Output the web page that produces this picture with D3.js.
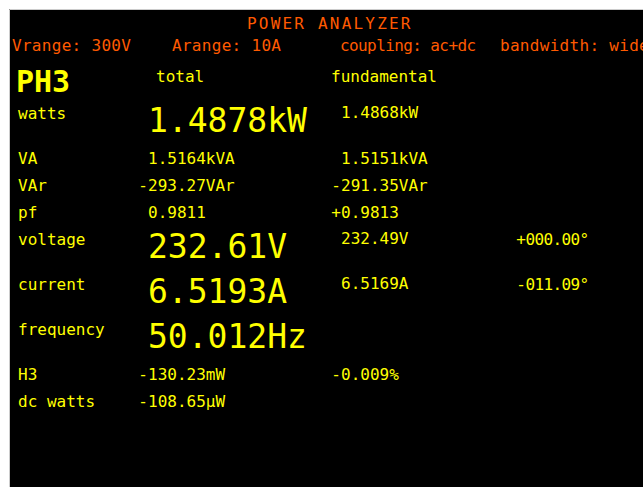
<!DOCTYPE html>
<html>
<head>
<meta charset="utf-8">
<script src="https://cdn.jsdelivr.net/npm/d3@7"></script>
<style>
  body { margin: 0; background: #fff; }
  svg { display: block; }
  text { font-family: "DejaVu Sans Mono", monospace; }
</style>
</head>
<body>
<div id="screen"></div>
<script>
// readings off the analyzer screen
const title = "POWER ANALYZER";
const settings = ["Vrange: 300V", "Arange: 10A", "coupling: ac+dc", "bandwidth: wide"];
const channel = "PH3";
const columnHeads = ["total", "fundamental"];
const labels = ["watts", "VA", "VAr", "pf", "voltage", "current", "frequency", "H3", "dc watts"];
const totalValues = ["1.4878kW", "1.5164kVA", "-293.27VAr", "0.9811", "232.61V", "6.5193A", "50.012Hz", "-130.23mW", "-108.65µW"];
const fundamentalValues = ["1.4868kW", "1.5151kVA", "-291.35VAr", "+0.9813", "232.49V", "6.5169A", "", "-0.009%", ""];
const phaseValues = ["", "", "", "", "+000.00°", "-011.09°", "", "", ""];
const bigRows = ["watts", "voltage", "current", "frequency"];

const width = 643, height = 487;
const orange = "#ff5a00", yellow = "#ffff00";
const smallChar = 9.63; // width of one glyph at 16px mono

const svg = d3.select("#screen").append("svg")
  .attr("width", width)
  .attr("height", height);

// screen runs off the right and bottom edges
svg.append("rect")
  .attr("x", 9).attr("y", 9)
  .attr("width", width).attr("height", height)
  .attr("fill", "#000");
svg.append("path")
  .attr("d", `M9.5,${height}V9.5H${width}`)
  .attr("fill", "none")
  .attr("stroke", "#ccc");

// title + settings line
svg.append("text")
  .attr("x", 247).attr("y", 29)
  .attr("fill", orange)
  .attr("font-size", 16)
  .attr("letter-spacing", 2.2)
  .text(title);

const settingX = d3.scaleOrdinal().domain(settings).range([12, 172, 340, 500]);
svg.append("g").selectAll("text")
  .data(settings)
  .join("text")
  .attr("x", d => settingX(d))
  .attr("y", 51)
  .attr("fill", orange)
  .attr("font-size", 16)
  .attr("letter-spacing", d => d.startsWith("coupling") ? -0.6 : 0.3)
  .text(d => d);

svg.append("text")
  .attr("x", 16).attr("y", 92)
  .attr("fill", yellow)
  .attr("font-size", 30)
  .attr("font-weight", "bold")
  .text(channel);

const headX = d3.scaleOrdinal().domain(columnHeads).range([156, 331]);
svg.append("g").selectAll("text")
  .data(columnHeads)
  .join("text")
  .attr("x", d => headX(d))
  .attr("y", 82)
  .attr("fill", yellow)
  .attr("font-size", 16)
  .text(d => d);

// row baselines: big rows take more room than small ones
const isBig = d => bigRows.includes(d);
const steps = labels.map((d, i) => i === 0 ? 0 : (isBig(labels[i - 1]) ? 45 : 27));
const rowY = d3.scaleOrdinal().domain(labels).range(Array.from(d3.cumsum(steps), s => 119 + s));

const colX = d3.scaleOrdinal()
  .domain(["label", "total", "fundamental", "phase"])
  .range([18, 148, 341, 526]);

// shift signed readings one glyph left so digits line up
const signShift = (v, cw) => /^[+-]/.test(v) ? -cw : 0;

const rows = labels.map((label, i) => ({
  label,
  total: totalValues[i],
  fundamental: fundamentalValues[i],
  phase: phaseValues[i],
  big: isBig(label)
}));

const g = svg.append("g").attr("fill", yellow);

g.selectAll(".label")
  .data(rows)
  .join("text")
  .attr("class", "label")
  .attr("x", colX("label"))
  .attr("y", d => rowY(d.label))
  .attr("font-size", 16)
  .text(d => d.label);

g.selectAll(".total")
  .data(rows)
  .join("text")
  .attr("class", "total")
  .attr("x", d => colX("total") + signShift(d.total, d.big ? 19.9 : smallChar))
  .attr("y", d => rowY(d.label) + (d.big ? 13 : 0))
  .attr("font-size", d => d.big ? 33 : 16)
  .text(d => d.total);

g.selectAll(".fund")
  .data(rows.filter(d => d.fundamental))
  .join("text")
  .attr("class", "fund")
  .attr("x", d => colX("fundamental") + signShift(d.fundamental, smallChar))
  .attr("y", d => rowY(d.label) - (d.big ? 1 : 0))
  .attr("font-size", 16)
  .text(d => d.fundamental);

g.selectAll(".phase")
  .data(rows.filter(d => d.phase))
  .join("text")
  .attr("class", "phase")
  .attr("x", d => colX("phase") + signShift(d.phase, smallChar))
  .attr("y", d => rowY(d.label))
  .attr("font-size", 16)
  .attr("letter-spacing", -0.6)
  .text(d => d.phase);
</script>
</body>
</html>
